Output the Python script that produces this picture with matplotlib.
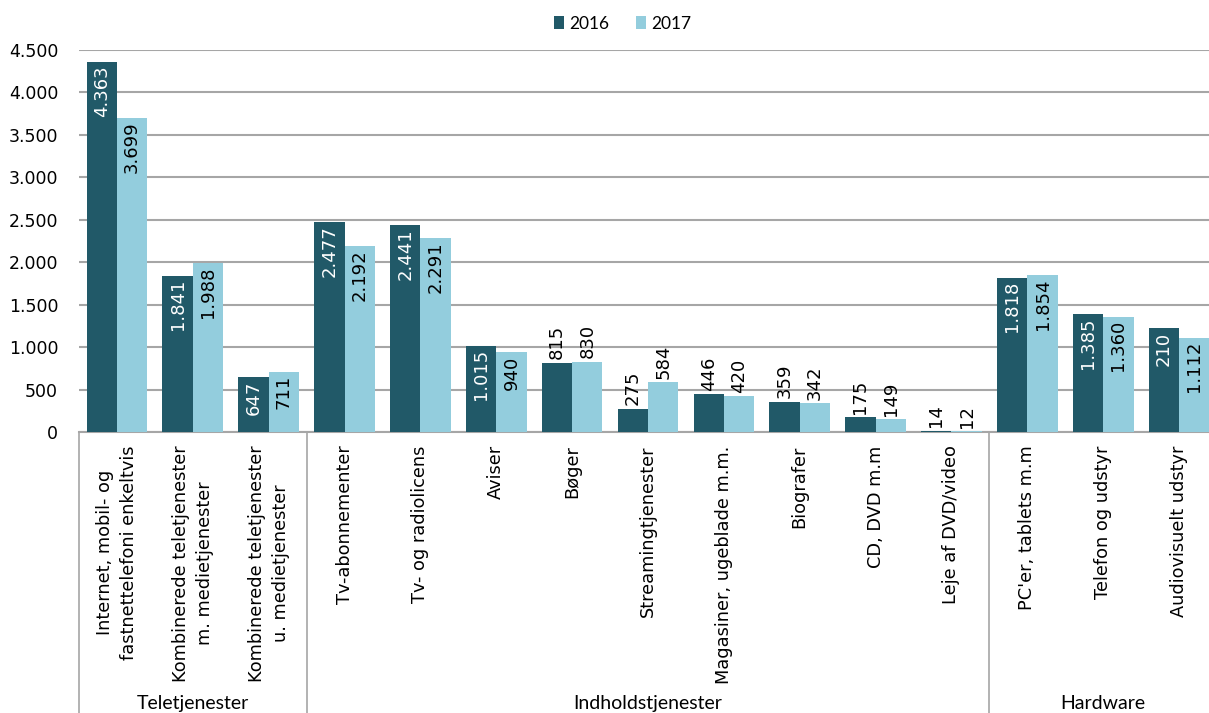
import matplotlib.pyplot as plt
import matplotlib.transforms as mtransforms
import numpy as np

# Data
categories = [
    "Internet, mobil- og\nfastnettelefoni enkeltvis",
    "Kombinerede teletjenester\nm. medietjenester",
    "Kombinerede teletjenester\nu. medietjenester",
    "Tv-abonnementer",
    "Tv- og radiolicens",
    "Aviser",
    "Bøger",
    "Streamingtjenester",
    "Magasiner, ugeblade m.m.",
    "Biografer",
    "CD, DVD m.m",
    "Leje af DVD/video",
    "PC'er, tablets m.m",
    "Telefon og udstyr",
    "Audiovisuelt udstyr",
]
values_2016 = [4363, 1841, 647, 2477, 2441, 1015, 815, 275, 446, 359, 175, 14, 1818, 1385, 1225]
values_2017 = [3699, 1988, 711, 2192, 2291, 940, 830, 584, 420, 342, 149, 12, 1854, 1360, 1112]
labels_2016 = ["4.363", "1.841", "647", "2.477", "2.441", "1.015", "815", "275", "446", "359", "175", "14", "1.818", "1.385", "210"]
labels_2017 = ["3.699", "1.988", "711", "2.192", "2.291", "940", "830", "584", "420", "342", "149", "12", "1.854", "1.360", "1.112"]
inside = [True, True, True, True, True, True, False, False, False, False, False, False, True, True, True]

groups = ["Teletjenester", "Indholdstjenester", "Hardware"]
group_sizes = [3, 9, 3]

yticks = [0, 500, 1000, 1500, 2000, 2500, 3000, 3500, 4000, 4500]

dark = "#215968"
light = "#93CDDD"
grid_col = "#A6A6A6"

plt.rcParams['font.family'] = ['Lato', 'DejaVu Sans']

fig = plt.figure(figsize=(12.09, 7.13), dpi=100)
ax = fig.add_axes([79 / 1209, (713 - 432) / 713, (1217 - 79) / 1209, 382 / 713])

x = np.arange(len(categories))
w = 0.4
ax.bar(x - w / 2, values_2016, w, color=dark, label="2016", zorder=3)
ax.bar(x + w / 2, values_2017, w, color=light, label="2017", zorder=3)

ax.set_xlim(-0.5, len(categories) - 0.5)
ax.set_ylim(0, 4500)
ax.set_yticks(yticks)
ax.set_yticklabels([f"{t:,}".replace(",", ".") for t in yticks], fontsize=12.5, family='DejaVu Sans')
ax.tick_params(axis='y', length=0, pad=15)
ax.tick_params(axis='x', length=0, labelbottom=False)
ax.yaxis.grid(True, color=grid_col, linewidth=1.5, zorder=0)
for s in ['top', 'right', 'left']:
    ax.spines[s].set_visible(False)
ax.spines['bottom'].set_color(grid_col)
ax.spines['bottom'].set_linewidth(1.5)

# value labels
off = 40
for xs, vals, labs, col in [(x - w / 2, values_2016, labels_2016, 'white'),
                            (x + w / 2, values_2017, labels_2017, 'black')]:
    for i in range(len(xs)):
        if inside[i]:
            ax.text(xs[i], vals[i] - off, labs[i], rotation=90, ha='center', va='top',
                    color=col, fontsize=13, family='DejaVu Sans', zorder=4)
        else:
            ax.text(xs[i], vals[i] + off, labs[i], rotation=90, ha='center', va='bottom',
                    color='black', fontsize=13, family='DejaVu Sans', zorder=4)

# category labels below axis
trans = mtransforms.blended_transform_factory(ax.transData, ax.transAxes)
for i, c in enumerate(categories):
    ax.text(i, -0.035, c, rotation=90, ha='center', va='top', multialignment='center',
            fontsize=12.8, family='DejaVu Sans', linespacing=1.45, transform=trans)

# group dividers and labels
start = 0
bounds = [0]
for g, n in zip(groups, group_sizes):
    ax.text(start + n / 2 - 0.5, -0.71, g, ha='center', va='center', fontsize=14, transform=trans)
    start += n
    bounds.append(start)
for b in bounds[:-1]:
    ax.plot([b - 0.5, b - 0.5], [0, -0.8], color=grid_col, linewidth=1.2, transform=trans, clip_on=False)

fig.legend(loc='upper center', bbox_to_anchor=(0.515, 1.0), ncol=2, frameon=False, fontsize=12.5,
           handlelength=0.6, handleheight=0.7, handletextpad=0.3, columnspacing=1.5)

fig.savefig("out.png", dpi=100)
